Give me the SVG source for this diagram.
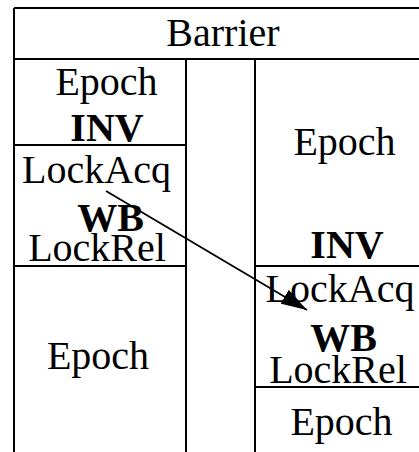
<svg xmlns="http://www.w3.org/2000/svg" width="419" height="452" viewBox="0 0 419 452">
  <style>
    .grid { stroke: #000; stroke-width: 2; fill: none; }
    .t { font-family: "Liberation Serif", "Times New Roman", serif; font-size: 40px; fill: #000; text-anchor: middle; }
    .b { font-weight: bold; }
    .edge { stroke: #000; stroke-width: 1.8; fill: none; }
  </style>
  <defs>
    <marker id="arrowhead" viewBox="0 0 26 16" markerWidth="26" markerHeight="16" refX="26" refY="8" orient="auto" markerUnits="userSpaceOnUse">
      <path d="M0,0 L26,8 L0,16 z" fill="#000"/>
    </marker>
  </defs>

  <!-- table frame -->
  <g id="frame">
    <line class="grid" x1="14" y1="8" x2="419" y2="8"/>
    <line class="grid" x1="14" y1="8" x2="14" y2="452"/>
    <line class="grid" x1="14" y1="59" x2="419" y2="59"/>
    <line class="grid" x1="186" y1="59" x2="186" y2="452"/>
    <line class="grid" x1="255" y1="59" x2="255" y2="452"/>
  </g>

  <g id="barrier">
    <text class="t" x="223" y="46">Barrier</text>
  </g>

  <!-- left column -->
  <g id="left-epoch-inv">
    <text class="t" x="106.5" y="95">Epoch</text>
    <text class="t b" x="107" y="141">INV</text>
    <line class="grid" x1="14" y1="145" x2="186" y2="145"/>
  </g>
  <g id="left-lock">
    <text class="t" x="96.5" y="183">LockAcq</text>
    <text class="t b" x="110.5" y="231">WB</text>
    <text class="t" x="97" y="261">LockRel</text>
    <line class="grid" x1="14" y1="266" x2="186" y2="266"/>
  </g>
  <g id="left-epoch">
    <text class="t" x="98" y="369">Epoch</text>
  </g>

  <!-- right column -->
  <g id="right-epoch-inv">
    <text class="t" x="344.5" y="155">Epoch</text>
    <text class="t b" x="347" y="258">INV</text>
    <line class="grid" x1="255" y1="266" x2="419" y2="266"/>
  </g>
  <g id="right-lock">
    <text class="t" x="340" y="302">LockAcq</text>
    <text class="t b" x="343.5" y="351">WB</text>
    <text class="t" x="338" y="383">LockRel</text>
    <line class="grid" x1="255" y1="387" x2="419" y2="387"/>
  </g>
  <g id="right-epoch">
    <text class="t" x="341.5" y="435">Epoch</text>
  </g>

  <!-- connectors -->
  <g id="connectors">
    <line class="edge" x1="106" y1="191" x2="307" y2="310" marker-end="url(#arrowhead)"/>
  </g>
</svg>
